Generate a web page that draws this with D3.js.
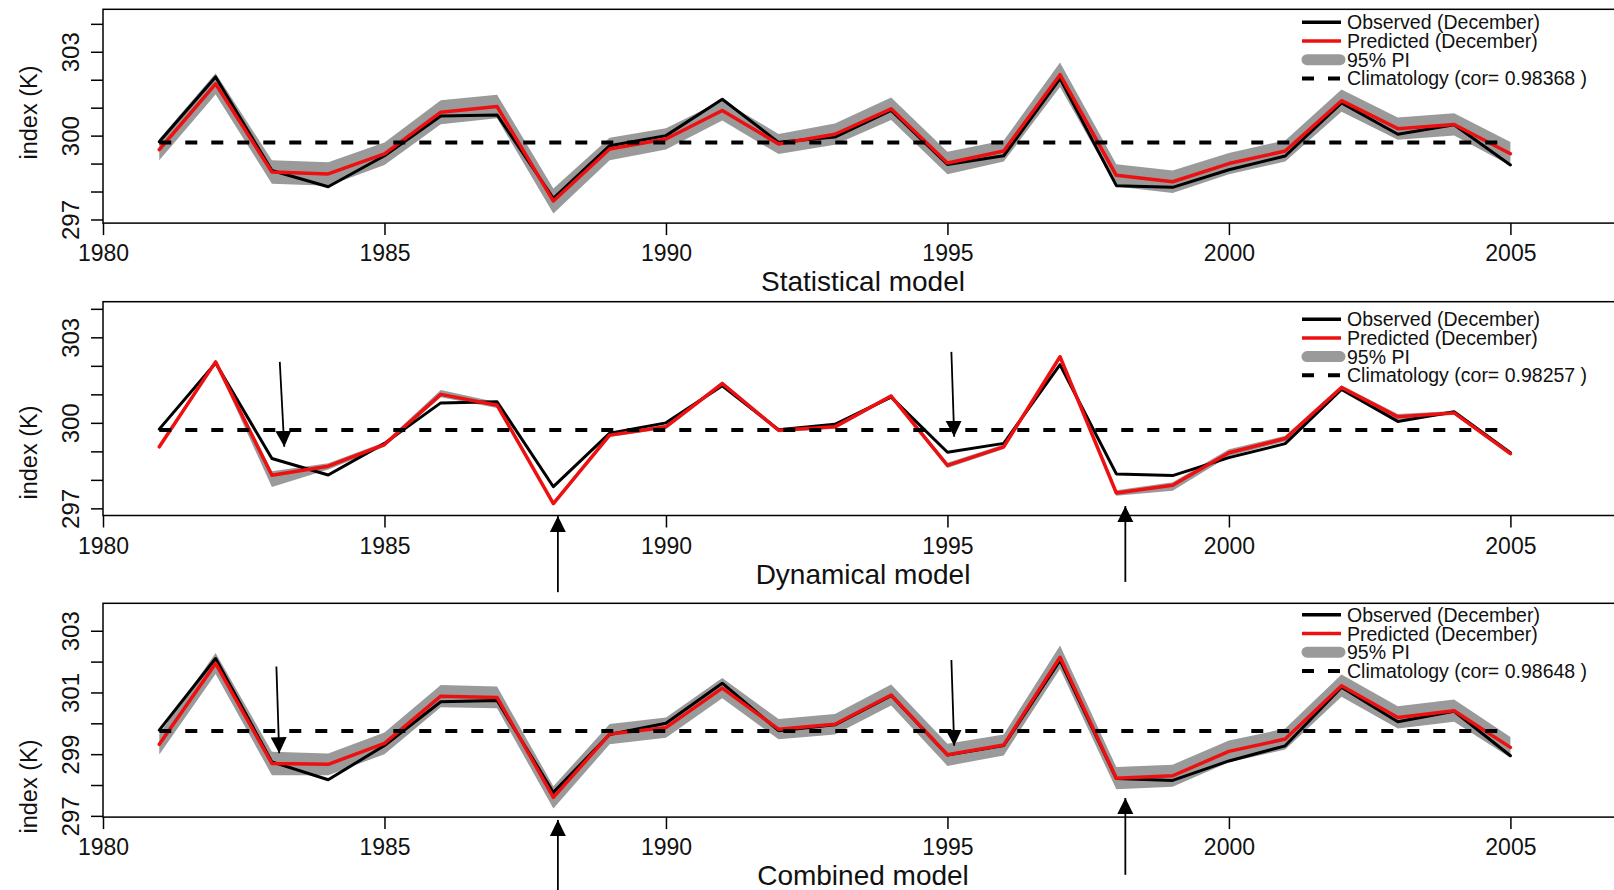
<!DOCTYPE html>
<html>
<head>
<meta charset="utf-8">
<script src="https://cdn.jsdelivr.net/npm/d3@7"></script>
<style>
  html, body { margin: 0; padding: 0; background: #fff; overflow: hidden; }
  svg { display: block; font-family: "Liberation Sans", Arial, Helvetica, sans-serif; }
</style>
</head>
<body>
<svg id="chart" width="1614" height="890"></svg>
<script>
// December index: observed values and three model hindcasts with 95% prediction intervals
const years = [1981, 1982, 1983, 1984, 1985, 1986, 1987, 1988, 1989, 1990, 1991, 1992, 1993,
               1994, 1995, 1996, 1997, 1998, 1999, 2000, 2001, 2002, 2003, 2004, 2005];

const observed = [299.78, 302.10, 298.75, 298.17, 299.28, 300.70, 300.74, 297.76, 299.64, 300.00,
                  301.30, 299.76, 299.95, 300.90, 298.97, 299.28, 302.04, 298.21, 298.15, 298.78,
                  299.27, 301.17, 300.05, 300.39, 298.95];

const climatology = 299.75;

const statPred  = [299.50, 301.85, 298.70, 298.63, 299.35, 300.84, 301.04, 297.66, 299.52, 299.88,
                   300.90, 299.70, 300.05, 300.96, 299.02, 299.45, 302.18, 298.58, 298.35, 299.00,
                   299.45, 301.25, 300.25, 300.40, 299.35];
const statLower = [299.12, 301.47, 298.28, 298.21, 298.95, 300.41, 300.62, 297.21, 299.12, 299.50,
                   300.54, 299.34, 299.67, 300.56, 298.62, 299.07, 301.74, 298.18, 297.95, 298.62,
                   299.07, 300.85, 299.85, 300.00, 298.93];
const statUpper = [299.88, 302.23, 299.12, 299.05, 299.75, 301.27, 301.46, 298.11, 299.92, 300.26,
                   301.26, 300.06, 300.43, 301.36, 299.42, 299.83, 302.62, 298.98, 298.75, 299.38,
                   299.83, 301.65, 300.65, 300.80, 299.77];

const dynPred  = [299.16, 302.14, 298.16, 298.48, 299.24, 301.00, 300.62, 297.17, 299.57, 299.86,
                  301.38, 299.74, 299.86, 300.94, 298.51, 299.16, 302.32, 297.54, 297.81, 298.95,
                  299.45, 301.24, 300.21, 300.35, 298.92];
const dynLower = [299.10, 302.08, 297.75, 298.36, 299.16, 300.90, 300.52, 297.10, 299.50, 299.79,
                  301.30, 299.67, 299.79, 300.87, 298.42, 299.08, 302.24, 297.44, 297.62, 298.83,
                  299.35, 301.16, 300.11, 300.28, 298.85];
const dynUpper = [299.22, 302.20, 298.30, 298.58, 299.32, 301.15, 300.72, 297.24, 299.64, 299.93,
                  301.46, 299.81, 299.93, 301.01, 298.60, 299.24, 302.40, 297.64, 297.92, 299.07,
                  299.55, 301.32, 300.31, 300.42, 298.99];

const combPred  = [299.32, 301.94, 298.70, 298.67, 299.35, 300.88, 300.84, 297.60, 299.65, 299.86,
                   301.14, 299.81, 299.97, 300.92, 298.98, 299.30, 302.14, 298.22, 298.30, 299.09,
                   299.49, 301.22, 300.19, 300.41, 299.22];
const combLower = [298.99, 301.60, 298.32, 298.32, 299.00, 300.52, 300.49, 297.24, 299.32, 299.53,
                   300.81, 299.48, 299.64, 300.58, 298.62, 298.96, 301.76, 297.86, 297.94, 298.74,
                   299.15, 300.86, 299.83, 300.05, 298.88];
const combUpper = [299.65, 302.28, 299.08, 299.02, 299.70, 301.24, 301.19, 297.96, 299.98, 300.19,
                   301.47, 300.14, 300.30, 301.26, 299.34, 299.64, 302.52, 298.58, 298.66, 299.44,
                   299.83, 301.58, 300.55, 300.77, 299.56];

const panelTitles = ["Statistical model", "Dynamical model", "Combined model"];
const correlations = ["0.98368", "0.98257", "0.98648"];
const legendLabels = ["Observed (December)", "Predicted (December)", "95% PI", "Climatology (cor= "];

const xTicks = [1980, 1985, 1990, 1995, 2000, 2005];
const yTicksMinor = [[297, 298, 299, 300, 301, 302, 303, 304],
                     [297, 298, 299, 300, 301, 302, 303, 304],
                     [297, 298, 299, 300, 301, 302, 303]];
const yTickLabels = [[297, 300, 303], [297, 300, 303], [297, 299, 301, 303]];
const yDomains = [[296.87, 304.52], [296.75, 304.25], [296.96, 303.89]];

// Annotation arrows, [year, value] pairs from tail to head, per panel
const arrows = [
  [],
  [ [[1983.14, 302.14], [1983.22, 299.16]],
    [[1995.07, 302.49], [1995.12, 299.51]],
    [[1988.08, 294.06], [1988.08, 296.73]],
    [[1998.16, 294.42], [1998.16, 297.08]] ],
  [ [[1983.08, 301.84], [1983.13, 299.03]],
    [[1995.07, 302.05], [1995.12, 299.27]],
    [[1988.08, 294.45], [1988.08, 296.87]],
    [[1998.16, 295.09], [1998.16, 297.58]] ]
];

const panels = [
  { pred: statPred, lower: statLower, upper: statUpper },
  { pred: dynPred,  lower: dynLower,  upper: dynUpper },
  { pred: combPred, lower: combLower, upper: combUpper }
];

// ---- layout ----
const plotLeft = 103, plotRight = 1623;
const panelTops = [9.3, 301.7, 603.3];
const panelHeight = 213.8;
const ylabCenters = [112.5, 452.5, 786.5];
const legendOffsets = [13, 17.5, 11.5];

const svg = d3.select("#chart");
const x = d3.scaleLinear().domain([1980, 2007]).range([plotLeft, plotRight]);

const RED = "#ee1010", GRAY = "#9a9a9a", INK = "#111";

svg.append("defs").append("marker")
  .attr("id", "ahead").attr("viewBox", "0 0 10 10")
  .attr("refX", 10).attr("refY", 5)
  .attr("markerUnits", "userSpaceOnUse")
  .attr("markerWidth", 16).attr("markerHeight", 17)
  .attr("orient", "auto")
  .append("path").attr("d", "M0,0 L10,5 L0,10 Z").attr("fill", "#000");

panels.forEach((p, i) => {
  const top = panelTops[i], bottom = top + panelHeight;
  const y = d3.scaleLinear().domain(yDomains[i]).range([bottom, top]);
  const g = svg.append("g");

  // 95% prediction interval band
  const band = d3.area()
    .x((d, k) => x(years[k]))
    .y0((d, k) => y(p.lower[k]))
    .y1((d, k) => y(p.upper[k]));
  g.append("path").datum(years).attr("d", band).attr("fill", GRAY).attr("stroke", "none");

  const line = vals => d3.line().x((d, k) => x(years[k])).y((d, k) => y(vals[k]))(years);

  g.append("path").attr("d", line(observed))
    .attr("fill", "none").attr("stroke", "#000").attr("stroke-width", 3)
    .attr("stroke-linejoin", "round").attr("stroke-linecap", "round");
  g.append("path").attr("d", line(p.pred))
    .attr("fill", "none").attr("stroke", RED).attr("stroke-width", 3.5)
    .attr("stroke-linejoin", "round").attr("stroke-linecap", "round");

  // climatology reference
  g.append("line")
    .attr("x1", x(years[0])).attr("x2", x(years[years.length - 1]))
    .attr("y1", y(climatology)).attr("y2", y(climatology))
    .attr("stroke", "#000").attr("stroke-width", 4).attr("stroke-dasharray", "12,14");

  // frame
  g.append("rect").attr("x", plotLeft).attr("y", top)
    .attr("width", plotRight - plotLeft).attr("height", panelHeight)
    .attr("fill", "none").attr("stroke", "#000").attr("stroke-width", 1.5);

  // y axis
  const yAxis = d3.axisLeft(y).tickValues(yTicksMinor[i]).tickSize(12).tickSizeOuter(0)
    .tickFormat(d => yTickLabels[i].includes(d) ? d : "");
  const ya = g.append("g").attr("transform", `translate(${plotLeft},0)`).call(yAxis);
  ya.select(".domain").remove();
  ya.selectAll(".tick line").attr("stroke", "#000").attr("stroke-width", 1.5);
  ya.selectAll(".tick text")
    .attr("x", null).attr("dy", null)
    .attr("transform", "translate(-33,0) rotate(-90)")
    .attr("text-anchor", "middle").attr("dominant-baseline", "central")
    .attr("font-size", 24).attr("fill", INK).attr("font-family", null);

  // x axis
  const xAxis = d3.axisBottom(x).tickValues(xTicks).tickSize(12).tickSizeOuter(0).tickFormat(d3.format("d"));
  const xa = g.append("g").attr("transform", `translate(0,${bottom})`).call(xAxis);
  xa.select(".domain").remove();
  xa.selectAll(".tick line").attr("stroke", "#000").attr("stroke-width", 1.5);
  xa.selectAll(".tick text").attr("y", 30).attr("dy", null)
    .attr("dominant-baseline", "central")
    .attr("font-size", 23).attr("fill", INK).attr("font-family", null);

  // axis titles
  g.append("text").attr("x", (plotLeft + plotRight) / 2).attr("y", bottom + 68)
    .attr("text-anchor", "middle").attr("font-size", 28).attr("fill", INK)
    .text(panelTitles[i]);
  g.append("text")
    .attr("transform", `translate(29,${ylabCenters[i]}) rotate(-90)`)
    .attr("text-anchor", "middle").attr("dominant-baseline", "central")
    .attr("font-size", 23.5).attr("fill", INK).text("index (K)");

  // legend
  const lx0 = 1302, lx1 = 1341, tx = 1347, rowH = 18.7;
  const ly = k => top + legendOffsets[i] + k * rowH;
  const lg = g.append("g");
  lg.append("line").attr("x1", lx0).attr("x2", lx1).attr("y1", ly(0)).attr("y2", ly(0))
    .attr("stroke", "#000").attr("stroke-width", 3.5);
  lg.append("line").attr("x1", lx0).attr("x2", lx1).attr("y1", ly(1)).attr("y2", ly(1))
    .attr("stroke", RED).attr("stroke-width", 3.5);
  lg.append("line").attr("x1", lx0 + 5).attr("x2", lx1 - 1).attr("y1", ly(2)).attr("y2", ly(2))
    .attr("stroke", GRAY).attr("stroke-width", 11).attr("stroke-linecap", "round");
  lg.append("line").attr("x1", lx0).attr("x2", lx1).attr("y1", ly(3)).attr("y2", ly(3))
    .attr("stroke", "#000").attr("stroke-width", 4).attr("stroke-dasharray", "12,14");
  legendLabels.forEach((t, k) => {
    lg.append("text").attr("x", tx).attr("y", ly(k))
      .attr("dominant-baseline", "central").attr("font-size", 19.5).attr("fill", INK)
      .text(k === 3 ? t + correlations[i] + " )" : t);
  });

  // arrows
  arrows[i].forEach(a => {
    svg.append("line")
      .attr("x1", x(a[0][0])).attr("y1", y(a[0][1]))
      .attr("x2", x(a[1][0])).attr("y2", y(a[1][1]))
      .attr("stroke", "#000").attr("stroke-width", 1.8)
      .attr("marker-end", "url(#ahead)");
  });
});
</script>
</body>
</html>
